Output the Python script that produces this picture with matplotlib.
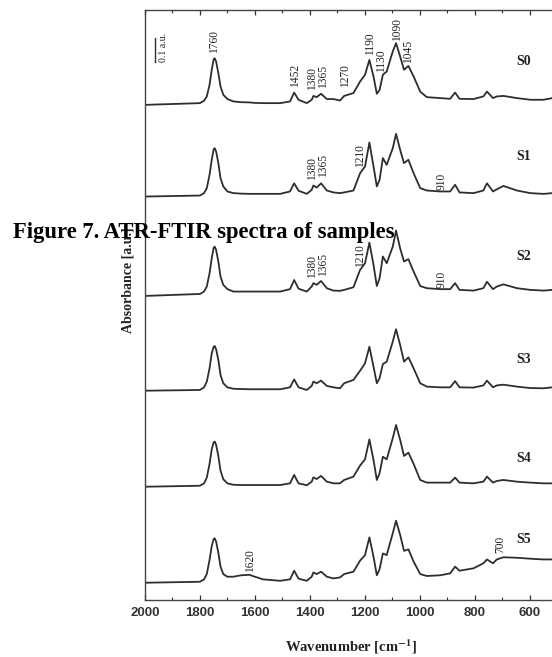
import numpy as np
import matplotlib
matplotlib.use("Agg")
import matplotlib.pyplot as plt

# wavenumber grid [cm-1]
wn = [1994, 1800, 1785, 1775, 1765, 1757, 1750, 1746, 1741, 1733, 1725, 1715, 1700, 1678,
      1650, 1620, 1600, 1570, 1508, 1472, 1457, 1441, 1411, 1393, 1387, 1375, 1359, 1338,
      1314, 1290, 1275, 1241, 1217, 1199, 1183, 1168, 1156, 1146, 1134, 1120, 1098, 1086,
      1071, 1057, 1041, 1022, 998, 974, 925, 889, 871, 855, 804, 768, 755, 733, 719, 695,
      646, 597, 549, 517]

# absorbance of each sample [a.u.]
s0 = [0.014, 0.021, 0.031, 0.049, 0.097, 0.160, 0.204, 0.208, 0.194, 0.146, 0.090, 0.056, 0.038, 0.028,
      0.025, 0.024, 0.022, 0.021, 0.021, 0.028, 0.065, 0.035, 0.021, 0.035, 0.051, 0.046, 0.060, 0.038,
      0.038, 0.032, 0.051, 0.063, 0.111, 0.139, 0.201, 0.132, 0.060, 0.076, 0.139, 0.153, 0.236, 0.271,
      0.215, 0.160, 0.176, 0.132, 0.069, 0.046, 0.042, 0.039, 0.065, 0.039, 0.038, 0.049, 0.069, 0.042,
      0.049, 0.051, 0.042, 0.035, 0.035, 0.042]
s1 = [0.014, 0.018, 0.028, 0.049, 0.104, 0.167, 0.211, 0.215, 0.201, 0.153, 0.090, 0.056, 0.035, 0.028,
      0.026, 0.025, 0.025, 0.025, 0.025, 0.035, 0.069, 0.038, 0.025, 0.042, 0.060, 0.051, 0.069, 0.039,
      0.031, 0.028, 0.031, 0.039, 0.111, 0.139, 0.239, 0.139, 0.056, 0.083, 0.174, 0.146, 0.215, 0.275,
      0.208, 0.153, 0.167, 0.111, 0.049, 0.039, 0.035, 0.035, 0.063, 0.031, 0.028, 0.039, 0.069, 0.035,
      0.044, 0.058, 0.039, 0.028, 0.025, 0.028]
s2 = [0.010, 0.018, 0.028, 0.049, 0.104, 0.167, 0.211, 0.215, 0.201, 0.153, 0.090, 0.056, 0.038, 0.028,
      0.028, 0.028, 0.028, 0.028, 0.028, 0.038, 0.076, 0.040, 0.028, 0.049, 0.063, 0.056, 0.072, 0.042,
      0.032, 0.031, 0.035, 0.046, 0.118, 0.146, 0.232, 0.139, 0.051, 0.083, 0.174, 0.146, 0.215, 0.282,
      0.208, 0.153, 0.163, 0.111, 0.051, 0.042, 0.038, 0.038, 0.063, 0.035, 0.032, 0.042, 0.069, 0.038,
      0.049, 0.058, 0.042, 0.035, 0.032, 0.035]
s3 = [0.011, 0.014, 0.025, 0.049, 0.104, 0.167, 0.194, 0.197, 0.183, 0.139, 0.076, 0.042, 0.025, 0.019,
      0.018, 0.017, 0.017, 0.017, 0.017, 0.025, 0.058, 0.025, 0.014, 0.031, 0.049, 0.042, 0.053, 0.031,
      0.025, 0.021, 0.042, 0.056, 0.094, 0.125, 0.194, 0.111, 0.042, 0.063, 0.122, 0.132, 0.215, 0.267,
      0.201, 0.132, 0.150, 0.104, 0.042, 0.028, 0.025, 0.025, 0.051, 0.025, 0.024, 0.033, 0.053, 0.025,
      0.033, 0.036, 0.028, 0.022, 0.021, 0.025]
s4 = [0.011, 0.015, 0.025, 0.049, 0.106, 0.167, 0.196, 0.199, 0.185, 0.139, 0.078, 0.042, 0.025, 0.019,
      0.018, 0.018, 0.018, 0.018, 0.018, 0.025, 0.060, 0.025, 0.017, 0.032, 0.050, 0.043, 0.056, 0.032,
      0.025, 0.025, 0.039, 0.053, 0.099, 0.125, 0.208, 0.122, 0.039, 0.067, 0.136, 0.125, 0.213, 0.268,
      0.206, 0.139, 0.153, 0.106, 0.039, 0.028, 0.028, 0.028, 0.049, 0.028, 0.025, 0.032, 0.053, 0.028,
      0.035, 0.039, 0.032, 0.028, 0.025, 0.025]
s5 = [0.011, 0.015, 0.025, 0.047, 0.106, 0.164, 0.193, 0.196, 0.182, 0.136, 0.078, 0.047, 0.036, 0.036,
      0.042, 0.044, 0.036, 0.025, 0.019, 0.025, 0.061, 0.028, 0.019, 0.036, 0.054, 0.047, 0.057, 0.036,
      0.029, 0.033, 0.047, 0.057, 0.103, 0.126, 0.200, 0.119, 0.042, 0.067, 0.133, 0.126, 0.217, 0.269,
      0.210, 0.144, 0.150, 0.099, 0.047, 0.039, 0.042, 0.050, 0.078, 0.061, 0.071, 0.092, 0.108, 0.092,
      0.108, 0.117, 0.115, 0.111, 0.108, 0.108]

spectra = [s0, s1, s2, s3, s4, s5]
names = ["S0", "S1", "S2", "S3", "S4", "S5"]

# vertical stacking of the traces
offsets = [2.049, 1.667, 1.257, 0.861, 0.461, 0.061]
name_y = [2.242, 1.846, 1.429, 1.0, 0.5875, 0.25]

# peak annotations: text, x position, y of label bottom
peak_labels = [
    ("1760", 1749, 2.279), ("1452", 1454, 2.138), ("1380", 1393, 2.125),
    ("1365", 1353, 2.133), ("1270", 1271, 2.138), ("1190", 1180, 2.271),
    ("1130", 1141, 2.200), ("1090", 1083, 2.329), ("1045", 1041, 2.238),
    ("1380", 1393, 1.750), ("1365", 1353, 1.763), ("1210", 1217, 1.804),
    ("910", 919, 1.708),
    ("1380", 1393, 1.342), ("1365", 1353, 1.350), ("1210", 1217, 1.388),
    ("910", 919, 1.300),
    ("1620", 1617, 0.117), ("700", 707, 0.196),
]

W, H = 552, 657
fig = plt.figure(figsize=(W / 100, H / 100), dpi=100)
ax = fig.add_axes([145 / W, 57 / H, 412 / W, 590 / H])

line_col = "#2e2e2e"
for sp, off in zip(spectra, offsets):
    ax.plot(wn, np.array(sp) + off, color=line_col, lw=1.3)

serif = "Liberation Serif"
for nm, ny in zip(names, name_y):
    ax.text(623, ny, nm, family=serif, weight="bold", fontsize=10,
            ha="center", va="center", color="#222222")

for txt, px, py in peak_labels:
    ax.text(px, py, txt, family=serif, fontsize=8.3, rotation=90,
            ha="center", va="bottom", color="#222222")

# 0.1 a.u. scale bar
ax.plot([1964, 1964], [2.242, 2.342], color=line_col, lw=1.0)
ax.text(1934, 2.30, "0.1 a.u.", family=serif, fontsize=7, rotation=90,
        ha="center", va="center", color="#222222")

ax.set_xlim(2000, 500)
ax.set_ylim(0, 2.458)
ax.set_xticks([2000, 1800, 1600, 1400, 1200, 1000, 800, 600])
ax.set_xticks(np.arange(1900, 500, -200), minor=True)
ax.set_yticks([])
ax.tick_params(axis="x", which="both", direction="in", top=True, bottom=True,
               labelsize=9.5, pad=5, colors="#333333")
ax.tick_params(axis="x", which="major", length=3.5, width=0.9)
ax.tick_params(axis="x", which="minor", length=2, width=0.8)
for lab in ax.get_xticklabels():
    lab.set_fontweight("bold")
    lab.set_family("Liberation Sans")
for s in ax.spines.values():
    s.set_color("#444444")
    s.set_linewidth(1.0)

plt.rcParams["mathtext.fontset"] = "stix"
fig.text(351 / W, 1 - 647 / H, r"Wavenumber [cm$^{\mathbf{-1}}$]", family=serif,
         weight="bold", fontsize=10.5, ha="center", va="center", color="#222222")
fig.text(128 / W, 1 - 280 / H, "Absorbance [a.u.]", family=serif, weight="bold",
         fontsize=10, rotation=90, ha="center", va="center", color="#222222")

fig.text(13 / W, 1 - 238 / H, "Figure 7. ATR-FTIR spectra of samples", family=serif,
         weight="bold", fontsize=16.3, ha="left", va="baseline", color="black")

fig.savefig("out.png", dpi=100)
